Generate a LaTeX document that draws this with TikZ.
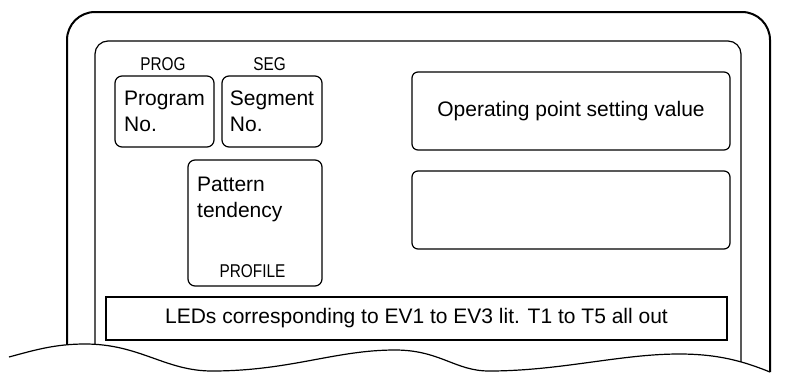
\documentclass[tikz,border=0pt]{standalone}
\usepackage{fontspec}
\setmainfont{Liberation Sans}
\newfontfamily\narrowsf[FakeStretch=0.83]{Liberation Sans}

\begin{document}
\begin{tikzpicture}[
  x=1pt, y=-1pt,
  every node/.style={font=\fontsize{21}{26}\selectfont, inner sep=0pt},
  panel/.style={draw, line width=1.2pt, rounded corners=7pt, align=left},
  tag/.style={font=\narrowsf\fontsize{18.5}{22}\selectfont, anchor=base},
  casing/.style={line width=2pt},
  rim/.style={line width=1.2pt}
]

\useasboundingbox (0,0) rectangle (789,372);

% casing and inner rim, cut off at the break line
\begin{scope}
  \clip (0,0) -- (0,357) -- (9,357)
        .. controls (35,350) and (55,344) .. (85,344)
        .. controls (140,344) and (165,371) .. (212,371)
        .. controls (290,371) and (335,350) .. (395,350)
        .. controls (440,350) and (455,371) .. (489,371)
        .. controls (560,371) and (620,354) .. (679,354)
        .. controls (720,354) and (745,362) .. (770,372)
        -- (789,372) -- (789,0) -- cycle;
  \draw[casing, rounded corners=28pt] (67,395) -- (67,12) -- (770,12) -- (770,395);
  \draw[rim, rounded corners=13pt] (95,395) -- (95,41) -- (741,41) -- (741,395);
\end{scope}

\draw[rim] (9,357)
      .. controls (35,350) and (55,344) .. (85,344)
      .. controls (140,344) and (165,371) .. (212,371)
      .. controls (290,371) and (335,350) .. (395,350)
      .. controls (440,350) and (455,371) .. (489,371)
      .. controls (560,371) and (620,354) .. (679,354)
      .. controls (720,354) and (745,362) .. (770,372);

% display fields
\node[panel, minimum width=99pt, minimum height=71pt] at (164.5,111.5) (progBox) {Program\\No.};
\node[panel, minimum width=100pt, minimum height=71pt] at (272,111.5) (segBox) {Segment\\No.};
\node[panel, minimum width=134pt, minimum height=126pt] at (255,223) (profBox) {};
\node[panel, minimum width=318pt, minimum height=78pt, rounded corners=6pt] at (571,111) (opBox) {Operating point setting value};
\node[panel, minimum width=318pt, minimum height=78pt, rounded corners=6pt] at (571,210) (blankBox) {};
\node[draw, line width=1.2pt, minimum width=621pt, minimum height=43pt] at (416.5,318.5) (ledBox)
     {LEDs corresponding to EV1 to EV3 lit. T1 to T5 all out};

\node[anchor=north west, align=left] at (197,177) (profText) {Pattern\\tendency};

\node[tag] at (163,70)    (progTag) {PROG};
\node[tag] at (269.5,70)  (segTag)  {SEG};
\node[tag] at (252.5,277) (profTag) {PROFILE};

\end{tikzpicture}
\end{document}
